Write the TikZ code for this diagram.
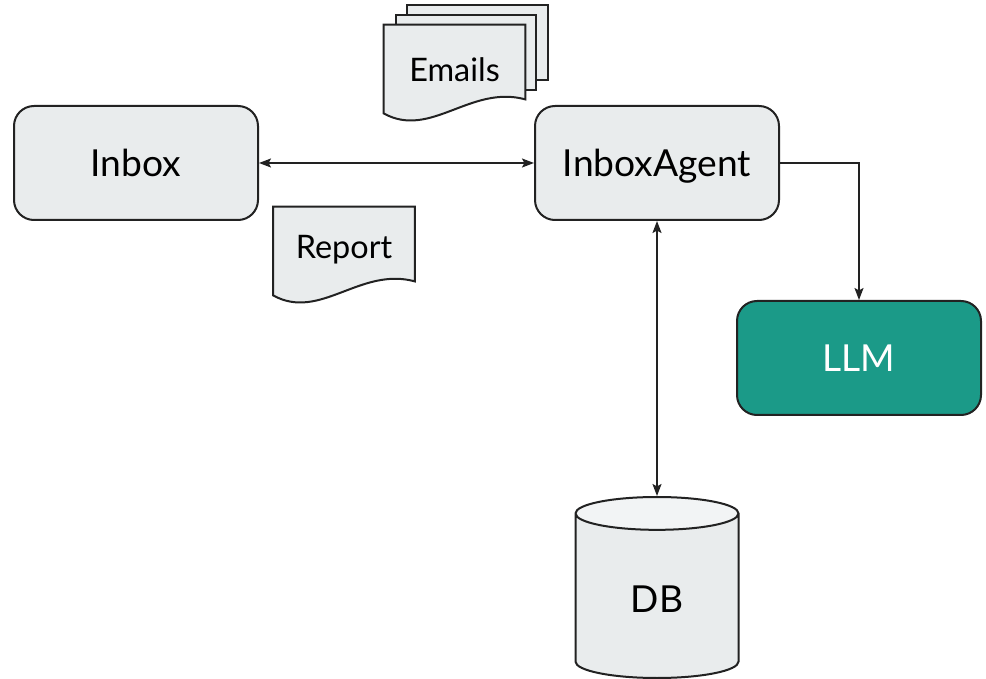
\documentclass[tikz,border=0pt]{standalone}
\usepackage{fontspec}
\setmainfont{Lato}
\usetikzlibrary{shapes.geometric, arrows.meta, positioning, calc, backgrounds}
\definecolor{boxgray}{HTML}{E9ECED}
\definecolor{capgray}{HTML}{F2F4F5}
\definecolor{llmteal}{HTML}{1B9A88}
\definecolor{edgegray}{HTML}{222222}
\tikzset{
    box/.style={
        rectangle, rounded corners=10pt, draw=edgegray, line width=1pt,
        fill=boxgray, minimum width=122pt, minimum height=57pt,
        text height=13.4pt, text depth=0pt,
        align=center, font=\fontsize{18.6}{22}\selectfont
    },
    llmbox/.style={box, fill=llmteal, text=white},
    dbcyl/.style={
        cylinder, shape border rotate=90, aspect=0.5,
        draw=edgegray, line width=1pt,
        cylinder uses custom fill, cylinder body fill=boxgray,
        cylinder end fill=capgray,
        minimum width=81.5pt, minimum height=90.5pt,
        font=\fontsize{18.6}{22}\selectfont
    },
    docpage/.style={
        rectangle, minimum width=70.5pt, minimum height=40pt,
        inner sep=0pt, text height=11.7pt, text depth=0pt,
        font=\fontsize{16.2}{19}\selectfont
    },
    pagefill/.style={draw=edgegray, line width=1pt, fill=boxgray},
    arrow/.style={-{Stealth[length=6pt, width=4.5pt, inset=1.2pt]}, line width=0.85pt, draw=edgegray},
    biarrow/.style={{Stealth[length=6pt, width=4.5pt, inset=1.2pt]}-{Stealth[length=6pt, width=4.5pt, inset=1.2pt]}, line width=0.85pt, draw=edgegray}
}
% document page with a wavy bottom, drawn round a named node
\newcommand{\docoutline}[1]{%
    \draw[pagefill] (#1.north west) -- (#1.north east)
        -- ($(#1.south east)+(0,-6)$)
        .. controls ($(#1.south west)+(87,-21)$) and ($(#1.south west)+(47,34)$)
        .. ($(#1.south west)+(0,8)$) -- cycle;}

\begin{document}
\begin{tikzpicture}[x=0.5pt, y=-0.5pt]
\useasboundingbox (0,0) rectangle (986,679);

% ── Main boxes ───────────────────────────────────────────────────────────────
\node[box] (inbox) at (136,163) {Inbox};
\node[box, right=137.5pt of inbox] (agent) {InboxAgent};
\node[llmbox] (llm) at (859,358) {LLM};
\node[dbcyl, below=137.5pt of agent] (db) {DB};

% ── Documents ────────────────────────────────────────────────────────────────
\node[docpage] (emails) at (454.5,65) {\raisebox{-2.2pt}{Emails}};
\node[docpage] (report) at (344,247) {Report};

\begin{scope}[on background layer]
\draw[pagefill] ($(emails.north west)+(23,-20)$) rectangle ($(emails.south east)+(23,-25)$);
\draw[pagefill] ($(emails.north west)+(12,-10)$) rectangle ($(emails.south east)+(11,-15)$);
\docoutline{emails}
\docoutline{report}
\end{scope}

% ── Arrows ───────────────────────────────────────────────────────────────────
\draw[biarrow] (inbox.east) -- (agent.west);
\draw[biarrow] (agent.south) -- (db.north);
\draw[arrow] (agent.east) -| (llm.north);

\end{tikzpicture}
\end{document}
